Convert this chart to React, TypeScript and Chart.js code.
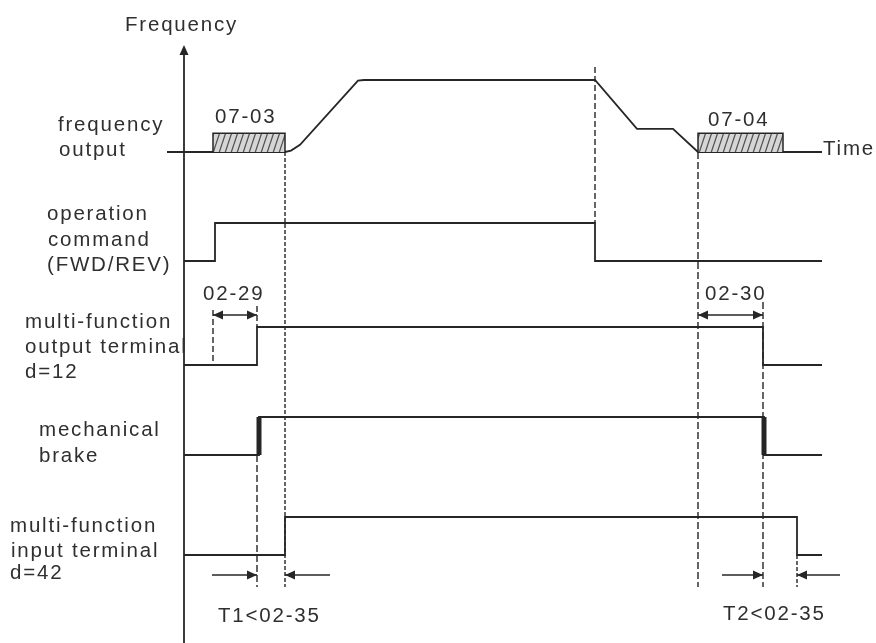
import { useEffect, useRef } from "react";
import { Chart, registerables } from "chart.js";

Chart.register(...registerables);

// ---------------- data (time measured from the frequency axis) ----------------
// frequency output, % of max frequency
const freqTimes = [-17, 101, 107, 116, 174, 180, 411, 453, 489, 514, 638];
const freqLevels = [0, 0, 2, 10, 99, 100, 100, 32, 32, 0, 0];

// operation command (FWD/REV)
const cmdTimes = [0, 31, 31, 411, 411, 638];
const cmdLevels = [0, 0, 1, 1, 0, 0];

// multi-function output terminal d=12
const outTimes = [0, 73, 73, 579, 579, 638];
const outLevels = [0, 0, 1, 1, 0, 0];

// mechanical brake
const brakeTimes = [0, 75, 75, 580, 580, 638];
const brakeLevels = [0, 0, 1, 1, 0, 0];
const brakeEdgeTimes = [75, 580];

// multi-function input terminal d=42
const inTimes = [0, 101, 101, 613, 613, 638];
const inLevels = [0, 0, 1, 1, 0, 0];

// DC brake hold periods (07-03 / 07-04)
const hold0703 = [29, 101];
const hold0704 = [514, 599];

// delay spans
const delay0229 = [29, 73];
const delay0230 = [514, 579];
const t1Span = [73, 101];
const t2Span = [579, 613];

// ---------------- layout / style ----------------
const W = 876;
const H = 643;
const X_MIN = -184;
const X_MAX = 692;
const LINE = "#262626";
const TEXT = "#2f2f2f";
const FONT = '20.5px "Liberation Sans", Arial, sans-serif';
const HATCH_LEVEL = 26;

// row baseline (page px) and px per level unit
const ROWS: Record<string, [number, number]> = {
  freq: [152, 0.72],
  cmd: [261, 38],
  out: [365, 38],
  brake: [455, 38],
  inp: [555, 38],
};

const guides = [
  { t: 101, from: 152, to: 587, dash: [4, 2] },
  { t: 29, from: 310, to: 362, dash: [6, 3] },
  { t: 73, from: 306, to: 327, dash: [6, 3] },
  { t: 73, from: 455, to: 587, dash: [7, 3] },
  { t: 411, from: 67, to: 223, dash: [6, 3] },
  { t: 514, from: 152, to: 587, dash: [7, 3] },
  { t: 579, from: 302, to: 587, dash: [7, 3] },
  { t: 613, from: 555, to: 587, dash: [4, 2] },
];

const DELAY_Y = 315;
const T_Y = 575;
const T_TAIL_1 = [28, 146];
const T_TAIL_2 = [538, 656];

const textLabels = [
  { text: "Frequency", t: -59, y: 31 },
  { text: "frequency", t: -126, y: 131 },
  { text: "output", t: -125, y: 156 },
  { text: "operation", t: -137, y: 220 },
  { text: "command", t: -136, y: 246 },
  { text: "(FWD/REV)", t: -137, y: 271 },
  { text: "multi-function", t: -159, y: 328 },
  { text: "output terminal", t: -159, y: 353 },
  { text: "d=12", t: -159, y: 378 },
  { text: "mechanical", t: -145, y: 436 },
  { text: "brake", t: -145, y: 462 },
  { text: "multi-function", t: -174, y: 532 },
  { text: "input terminal", t: -173, y: 557 },
  { text: "d=42", t: -174, y: 579 },
  { text: "07-03", t: 31, y: 123 },
  { text: "07-04", t: 524, y: 126 },
  { text: "Time", t: 639, y: 155 },
  { text: "02-29", t: 19, y: 300 },
  { text: "02-30", t: 521, y: 300 },
  { text: "T1<02-35", t: 34, y: 622 },
  { text: "T2<02-35", t: 539, y: 620 },
];

const zip = (xs: number[], ys: number[]) => xs.map((x, i) => ({ x, y: ys[i] }));

function rowScale(key: string) {
  const [base, unit] = ROWS[key];
  return {
    type: "linear" as const,
    display: false,
    min: (base - H) / unit,
    max: base / unit,
  };
}

function arrowHead(ctx: CanvasRenderingContext2D, x: number, y: number, dx: number, dy: number) {
  const len = 10;
  const half = 4.5;
  const px = -dy;
  const py = dx;
  ctx.beginPath();
  ctx.moveTo(x, y);
  ctx.lineTo(x - dx * len + px * half, y - dy * len + py * half);
  ctx.lineTo(x - dx * len - px * half, y - dy * len - py * half);
  ctx.closePath();
  ctx.fill();
}

const decorations = {
  id: "decorations",
  afterDatasetsDraw(chart: any) {
    const ctx: CanvasRenderingContext2D = chart.ctx;
    const xs = chart.scales.x;
    const ps = chart.scales.page;
    const X = (t: number) => xs.getPixelForValue(t);
    const Y = (v: number) => ps.getPixelForValue(v);
    ctx.save();
    ctx.fillStyle = LINE;
    // axis arrow head
    arrowHead(ctx, X(0), Y(45), 0, -1);
    // delay arrows (double headed)
    for (const span of [delay0229, delay0230]) {
      arrowHead(ctx, X(span[0]), Y(DELAY_Y), -1, 0);
      arrowHead(ctx, X(span[1]), Y(DELAY_Y), 1, 0);
    }
    // T1 / T2 arrows
    arrowHead(ctx, X(t1Span[0]), Y(T_Y), 1, 0);
    arrowHead(ctx, X(t1Span[1]), Y(T_Y), -1, 0);
    arrowHead(ctx, X(t2Span[0]), Y(T_Y), 1, 0);
    arrowHead(ctx, X(t2Span[1]), Y(T_Y), -1, 0);
    // text
    ctx.fillStyle = TEXT;
    ctx.font = FONT;
    (ctx as any).letterSpacing = "1.8px";
    ctx.textAlign = "left";
    ctx.textBaseline = "alphabetic";
    for (const l of textLabels) {
      ctx.fillText(l.text, X(l.t), Y(l.y));
    }
    ctx.restore();
  },
};

export default function App() {
  const ref = useRef<HTMLCanvasElement | null>(null);

  useEffect(() => {
    const canvas = ref.current;
    if (!canvas) return;
    const ctx = canvas.getContext("2d")!;

    const pc = document.createElement("canvas");
    pc.width = 6;
    pc.height = 18;
    const g = pc.getContext("2d")!;
    g.fillStyle = "#d6d6d6";
    g.fillRect(0, 0, 6, 18);
    g.strokeStyle = "#555555";
    g.lineWidth = 1.3;
    g.beginPath();
    for (const o of [-6, 0, 6]) {
      g.moveTo(o, 18);
      g.lineTo(o + 6, 0);
    }
    g.stroke();
    const hatch = ctx.createPattern(pc, "repeat")!;

    const sig = (data: any[], yAxisID: string, extra: any = {}) => ({
      data,
      yAxisID,
      borderColor: LINE,
      borderWidth: 1.8,
      pointRadius: 0,
      fill: false,
      tension: 0,
      ...extra,
    });

    const box = (span: number[]) =>
      sig(
        zip([span[0], span[0], span[1], span[1]], [0, HATCH_LEVEL, HATCH_LEVEL, 0]),
        "freq",
        { fill: { value: 0 }, backgroundColor: hatch, borderWidth: 1.5 }
      );

    const datasets: any[] = [
      box(hold0703),
      box(hold0704),
      sig(zip(freqTimes, freqLevels), "freq"),
      sig(zip(cmdTimes, cmdLevels), "cmd"),
      sig(zip(outTimes, outLevels), "out"),
      sig(zip(brakeTimes, brakeLevels), "brake"),
      ...brakeEdgeTimes.map((t) => sig(zip([t, t], [0, 1]), "brake", { borderWidth: 5, borderCapStyle: "butt" })),
      sig(zip(inTimes, inLevels), "inp"),
      // frequency axis
      sig(zip([0, 0], [50, H]), "page", { borderWidth: 1.8 }),
      // guides
      ...guides.map((gd) =>
        sig(zip([gd.t, gd.t], [gd.from, gd.to]), "page", { borderDash: gd.dash, borderWidth: 1.4 })
      ),
      // delay / T arrow shafts
      sig(zip(delay0229, [DELAY_Y, DELAY_Y]), "page", { borderWidth: 1.7 }),
      sig(zip(delay0230, [DELAY_Y, DELAY_Y]), "page", { borderWidth: 1.7 }),
      sig(zip([T_TAIL_1[0], t1Span[0]], [T_Y, T_Y]), "page", { borderWidth: 1.7 }),
      sig(zip([T_TAIL_1[1], t1Span[1]], [T_Y, T_Y]), "page", { borderWidth: 1.7 }),
      sig(zip([T_TAIL_2[0], t2Span[0]], [T_Y, T_Y]), "page", { borderWidth: 1.7 }),
      sig(zip([T_TAIL_2[1], t2Span[1]], [T_Y, T_Y]), "page", { borderWidth: 1.7 }),
    ];

    const chart = new Chart(canvas, {
      type: "line",
      data: { datasets },
      options: {
        responsive: false,
        animation: false,
        events: [],
        layout: { padding: 0 },
        clip: false as any,
        plugins: { legend: { display: false }, tooltip: { enabled: false }, title: { display: false } },
        scales: {
          x: { type: "linear", display: false, min: X_MIN, max: X_MAX },
          page: { type: "linear", display: false, min: 0, max: H, reverse: true },
          freq: rowScale("freq"),
          cmd: rowScale("cmd"),
          out: rowScale("out"),
          brake: rowScale("brake"),
          inp: rowScale("inp"),
        } as any,
      },
      plugins: [decorations],
    });
    return () => chart.destroy();
  }, []);

  return (
    <div style={{ position: "absolute", left: 0, top: 0, width: W, height: H, background: "#fff" }}>
      <canvas ref={ref} width={W} height={H} style={{ width: W, height: H, display: "block" }} />
    </div>
  );
}
